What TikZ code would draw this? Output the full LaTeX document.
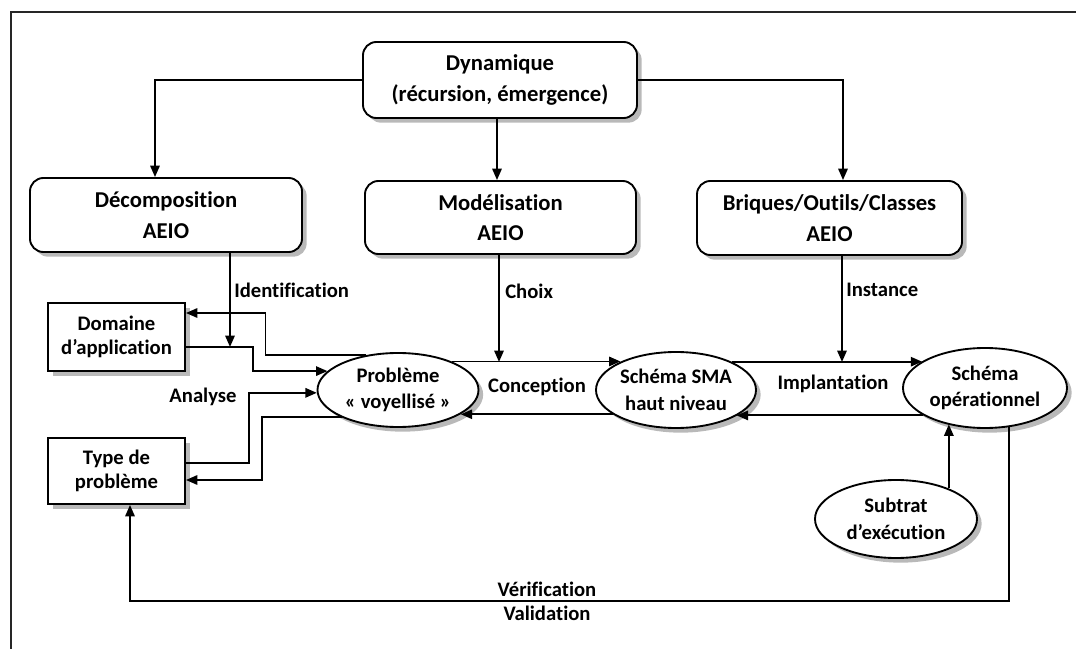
\documentclass[tikz,border=0pt]{standalone}
\usepackage{fontspec}
\setmainfont{Carlito}[Ligatures={NoCommon,NoContextual,NoRequired,NoRare}]
\usetikzlibrary{shapes.geometric,shadows,arrows.meta,calc}
\begin{document}
\begin{tikzpicture}[x=0.75pt,y=-0.75pt,
  shad/.style={drop shadow={shadow xshift=3.5pt,shadow yshift=-3.5pt,fill=black!50,opacity=0.55}},
  bigbox/.style={draw,line width=1.4pt,rounded corners=10pt,fill=white,shad,align=center,inner sep=0pt,font=\fontsize{17}{23}\selectfont\bfseries},
  smallbox/.style={draw,line width=1.4pt,fill=white,shad,align=center,inner sep=0pt,font=\fontsize{15.5}{18.5}\selectfont\bfseries},
  oval/.style={draw,ellipse,line width=1.4pt,fill=white,shad,align=center,inner xsep=-6pt,inner ysep=0pt,font=\fontsize{15.5}{20}\selectfont\bfseries},
  lab/.style={font=\fontsize{15.5}{19}\selectfont\bfseries,inner sep=0pt},
  arr/.style={line width=1.4pt,-{Triangle[length=8.5pt,width=7pt]}}]
\useasboundingbox (0,0) rectangle (1076,649);
\draw[line width=1.8pt,black!85] (1076,12) -- (11,12) -- (11,649);

\node[bigbox,minimum width=205.5pt,minimum height=57pt] (dyn) at (500,80) {Dynamique\\(récursion, émergence)};
\node[bigbox,minimum width=204pt,minimum height=55.5pt] (dec) at (166,215) {Décomposition\\AEIO};
\node[bigbox,minimum width=203.25pt,minimum height=54.75pt] (mod) at (500.5,217.5) {Modélisation\\AEIO};
\node[bigbox,minimum width=198.75pt,minimum height=55.5pt] (bri) at (829.5,218) {Briques/Outils/Classes\\AEIO};

\node[smallbox,minimum width=102.75pt,minimum height=51pt] (dom) at (116.5,337) {Domaine\\d’application};
\node[smallbox,minimum width=102.75pt,minimum height=49.5pt] (type) at (116.5,471) {Type de\\problème};

\node[oval,minimum width=120.75pt,minimum height=55.5pt] (prob) at (398,390) {Problème\\«~voyellisé~»};
\node[oval,minimum width=120pt,minimum height=57pt] (sma) at (676,390) {Schéma SMA\\haut niveau};
\node[oval,minimum width=123pt,minimum height=60pt] (oper) at (985,388) {Schéma\\opérationnel};
\node[oval,minimum width=121.5pt,minimum height=58.5pt] (sub) at (896,519) {Subtrat\\d’exécution};

% top connectors
\draw[arr] (dyn.west) -| ($(dec.north)+(-11,0)$);
\draw[arr] (dyn.east) -| ($(bri.north)+(13.5,0)$);
\draw[arr] ($(dyn.south)+(-3,0)$) -- ($(mod.north)+(-3.5,0)$);

\coordinate (j1) at (230,347);
\coordinate (j2) at (499,362);
\coordinate (j3) at (842,362);
\draw[arr] ($(dec.south)+(64,0)$) -- (j1);
\draw[arr] ($(mod.south)+(-1.5,0)$) -- (j2);
\draw[arr] ($(bri.south)+(12.5,0)$) -- (j3);

\node[lab,anchor=west] (lid) at (234,290) {Identification};
\node[lab,anchor=west] (lch) at (505,291) {Choix};
\node[lab,anchor=west] (lin) at (846,290) {Instance};

% main chain
\draw[arr] (prob.28) -- (prob.28 -| sma.153);
\draw[arr] (sma.201) -- (sma.201 -| prob.339);
\draw[arr] (sma.27) -- (sma.27 -| oper.157);
\draw[arr] (oper.204) -- (oper.204 -| sma.337);
\node[lab] (lcon) at (537,387) {Conception};
\node[lab] (limp) at (833,384) {Implantation};

% left side
\draw[arr] (prob.133) -- ++(-100,0) |- ($(dom.east)+(0,-24)$);
\draw[arr] ($(dom.east)+(0,10)$) -- ++(67,0) |- (prob.165);
\draw[arr] ($(type.east)+(0,-8)$) -- ++(63,0) |- (prob.182);
\draw[arr] (prob.206) -- ++(-80,0) |- ($(type.east)+(0,9)$);
\node[lab] (lana) at (203,397) {Analyse};

% right side
\draw[arr] (sub.30) -- (sub.30 |- oper.224);
\coordinate (vb) at (0,601);
\draw[arr] (oper.301) -- (oper.301 |- vb) -| ($(type.south)+(13.5,0)$);
\node[lab] (lver) at (547,589) {Vérification};
\node[lab] (lval) at (547,613) {Validation};
\end{tikzpicture}
\end{document}
